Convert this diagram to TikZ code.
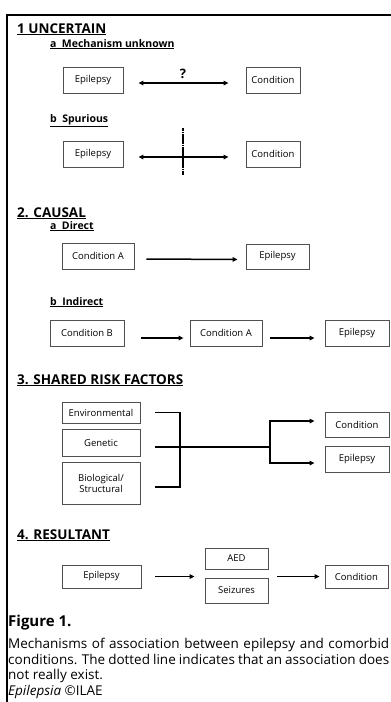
\documentclass[tikz,border=0pt]{standalone}
\usepackage{fontspec}
\setmainfont{Open Sans}
\usetikzlibrary{arrows.meta}
\definecolor{boxgray}{RGB}{80,80,80}
\tikzstyle{box} = [draw=boxgray, line width=0.8, inner sep=2,
    font=\fontsize{9.5}{11}\selectfont, align=center]
\tikzstyle{head} = [anchor=base west, inner sep=0,
    font=\fontsize{13.5}{15}\selectfont\bfseries]
\tikzstyle{sub} = [anchor=base west, inner sep=0,
    font=\fontsize{10.5}{12}\selectfont\bfseries]
\tikzstyle{arr} = [line width=1.5, -{Triangle[length=5,width=4.5]}]
\tikzstyle{link} = [line width=1.5]

\begin{document}
\begin{tikzpicture}[x=1pt, y=-1pt]
    \useasboundingbox (0,0) rectangle (391,702);

    % frame
    \draw[line width=2] (7,702) -- (7,15) -- (391,15);

    % 1. Uncertain
    \node[head] (h1) at (17,33) {\underline{1 UNCERTAIN}};
    \node[sub] (h1a) at (50,47) {\underline{a\ \ Mechanism unknown}};
    \node[box, minimum width=60, minimum height=26] (ep1) at (93,80) {Epilepsy};
    \node[box, minimum width=54, minimum height=26] (co1) at (273,80) {Condition};
    \draw[line width=1.5, {Triangle[length=5,width=4.5]}-{Triangle[length=5,width=4.5]}]
        ([xshift=15,yshift=-3]ep1.east) -- ([xshift=-17,yshift=-3]co1.west);
    \node[font=\fontsize{13}{15}\selectfont\bfseries, anchor=base, inner sep=0] (q) at (183,78) {?};

    \node[sub] (h1b) at (50,122) {\underline{b\ \ Spurious}};
    \node[box, minimum width=60, minimum height=26] (ep2) at (93,154) {Epilepsy};
    \node[box, minimum width=54, minimum height=26] (co2) at (273,154) {Condition};
    \draw[line width=1.5, {Triangle[length=5,width=4.5]}-{Triangle[length=5,width=4.5]}]
        ([xshift=15,yshift=-3]ep2.east) -- ([xshift=-17,yshift=-3]co2.west);
    \coordinate (cuttop) at (183,128);
    \coordinate (cutbot) at (183,175);
    \draw[line width=1.8, dash pattern=on 1.6pt off 0.25pt] (cuttop) -- (cutbot);

    % 2. Causal
    \node[head] (h2) at (17,217) {\underline{2. CAUSAL}};
    \node[sub] (h2a) at (50,229) {\underline{a\ \ Direct}};
    \node[box, minimum width=72, minimum height=26] (ca1) at (98,256) {Condition A};
    \node[box, minimum width=63, minimum height=25] (ep3) at (277.5,256.5) {Epilepsy};
    \draw[arr] ([xshift=12,yshift=-3]ca1.east) -- ([xshift=-8,yshift=-3]ep3.west);

    \node[sub] (h2b) at (50,305) {\underline{b\ \ Indirect}};
    \node[box, minimum width=74, minimum height=26] (cb2) at (87,333) {Condition B};
    \node[box, minimum width=72, minimum height=26] (ca2) at (226,333) {Condition A};
    \node[box, minimum width=64, minimum height=26] (ep4) at (357,333) {Epilepsy};
    \draw[arr] ([xshift=17,yshift=-5]cb2.east) -- ([xshift=-6,yshift=-5]ca2.west);
    \draw[arr] ([xshift=8,yshift=-5]ca2.east) -- ([xshift=-10,yshift=-5]ep4.west);

    % 3. Shared risk factors
    \node[head] (h3) at (17,384) {\underline{3. SHARED RISK FACTORS}};
    \node[box, minimum width=78, minimum height=21] (env) at (101,412.5) {Environmental};
    \node[box, minimum width=78, minimum height=27] (gen) at (101,443) {Genetic};
    \node[box, minimum width=78, minimum height=42] (bio) at (101,483) {Biological/\\Structural};
    \node[box, minimum width=64, minimum height=25] (co5) at (357,424.5) {Condition};
    \node[box, minimum width=64, minimum height=26] (ep5) at (357,459) {Epilepsy};
    \coordinate (join) at (180,447);
    \coordinate (split) at (270,447);
    \draw[link] ([xshift=15]env.east) -| (join);
    \draw[link] ([xshift=15,yshift=-4]bio.east) -| (join);
    \draw[link] ([xshift=15,yshift=-4]gen.east) -- (join) -- (split);
    \draw[arr] (split) |- ([xshift=-10,yshift=3.5]co5.west);
    \draw[arr] (split) |- ([xshift=-10,yshift=-4]ep5.west);

    % 4. Resultant
    \node[head] (h4) at (17,539) {\underline{4. RESULTANT}};
    \node[box, minimum width=79, minimum height=23] (ep6) at (101.5,576.5) {Epilepsy};
    \node[box, minimum width=63, minimum height=21] (aed) at (236.5,558.5) {AED};
    \node[box, minimum width=63, minimum height=25] (sz) at (236.5,590.5) {Seizures};
    \node[box, minimum width=63, minimum height=23] (co6) at (356.5,576.5) {Condition};
    \draw[arr] ([xshift=14]ep6.east) -- ([xshift=-10]ep6.east -| aed.west);
    \draw[arr] ([xshift=9]co6.west -| aed.east) -- ([xshift=-5]co6.west);

    % caption
    \node[anchor=base west, inner sep=0, font=\fontsize{15}{17}\selectfont\bfseries]
        (fig) at (8,626) {Figure 1.};
    \node[anchor=north west, inner sep=0, text width=381, align=justify,
        font=\fontsize{13.5}{15.5}\selectfont] (cap) at (8,638)
        {Mechanisms of association between epilepsy and comorbid\linebreak
         conditions. The dotted line indicates that an association does\linebreak
         not really exist.\\
         \textit{Epilepsia} ©ILAE};
\end{tikzpicture}
\end{document}
